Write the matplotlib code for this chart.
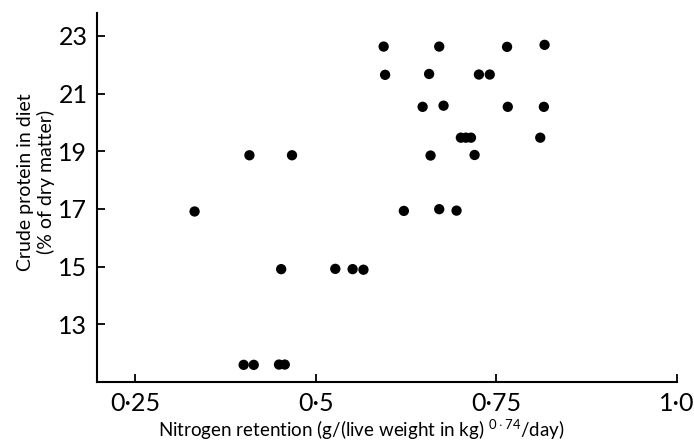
import matplotlib

matplotlib.use("Agg")
import matplotlib.pyplot as plt  # noqa: E402

# nitrogen retention (g/(live weight in kg)^0.74/day) vs crude protein (% DM)
n_retention = [
    0.594, 0.671, 0.765, 0.817,
    0.596, 0.657, 0.726, 0.741,
    0.648, 0.677, 0.766, 0.816,
    0.701, 0.708, 0.715, 0.811,
    0.408, 0.467, 0.659, 0.720,
    0.332, 0.622, 0.671, 0.695,
    0.452, 0.527, 0.551, 0.566,
    0.400, 0.414, 0.449, 0.457,
]
crude_protein = [
    22.63, 22.63, 22.62, 22.69,
    21.65, 21.68, 21.66, 21.66,
    20.54, 20.58, 20.54, 20.54,
    19.47, 19.47, 19.47, 19.47,
    18.86, 18.86, 18.85, 18.87,
    16.91, 16.93, 16.99, 16.94,
    14.91, 14.92, 14.91, 14.89,
    11.59, 11.59, 11.60, 11.60,
]

x_ticks = [0.25, 0.5, 0.75, 1.0]
x_tick_labels = ["0·25", "0·5", "0·75", "1·0"]
y_ticks = [13, 15, 17, 19, 21, 23]
y_tick_labels = ["13", "15", "17", "19", "21", "23"]

plt.rcParams["font.family"] = ["Lato", "DejaVu Sans"]
plt.rcParams["mathtext.fontset"] = "custom"
plt.rcParams["mathtext.rm"] = "Lato"

fig = plt.figure(figsize=(6.94, 4.43), dpi=100)
ax = fig.add_axes([0.140, 0.138, 0.835, 0.833])

ax.scatter(n_retention, crude_protein, s=55, color="black", edgecolors="none", zorder=3)

ax.set_xlim(0.197, 1.0)
ax.set_ylim(11.0, 23.8)
ax.set_xticks(x_ticks, x_tick_labels)
ax.set_yticks(y_ticks, y_tick_labels)

for side in ("top", "right"):
    ax.spines[side].set_visible(False)
for side in ("left", "bottom"):
    ax.spines[side].set_linewidth(1.5)

ax.tick_params(direction="in", length=6, width=1.3, labelsize=18, pad=7)

ax.set_xlabel(r"Nitrogen retention (g/(live weight in kg) $^{0\cdot74}$/day)",
              fontsize=13.5, va="baseline")
ax.set_ylabel("Crude protein in diet\n(% of dry matter)", fontsize=14,
              linespacing=1.25)
ax.xaxis.set_label_coords(0.456, -0.148)
ax.yaxis.set_label_coords(-0.072, 0.542)

fig.savefig("out.png", dpi=100)
